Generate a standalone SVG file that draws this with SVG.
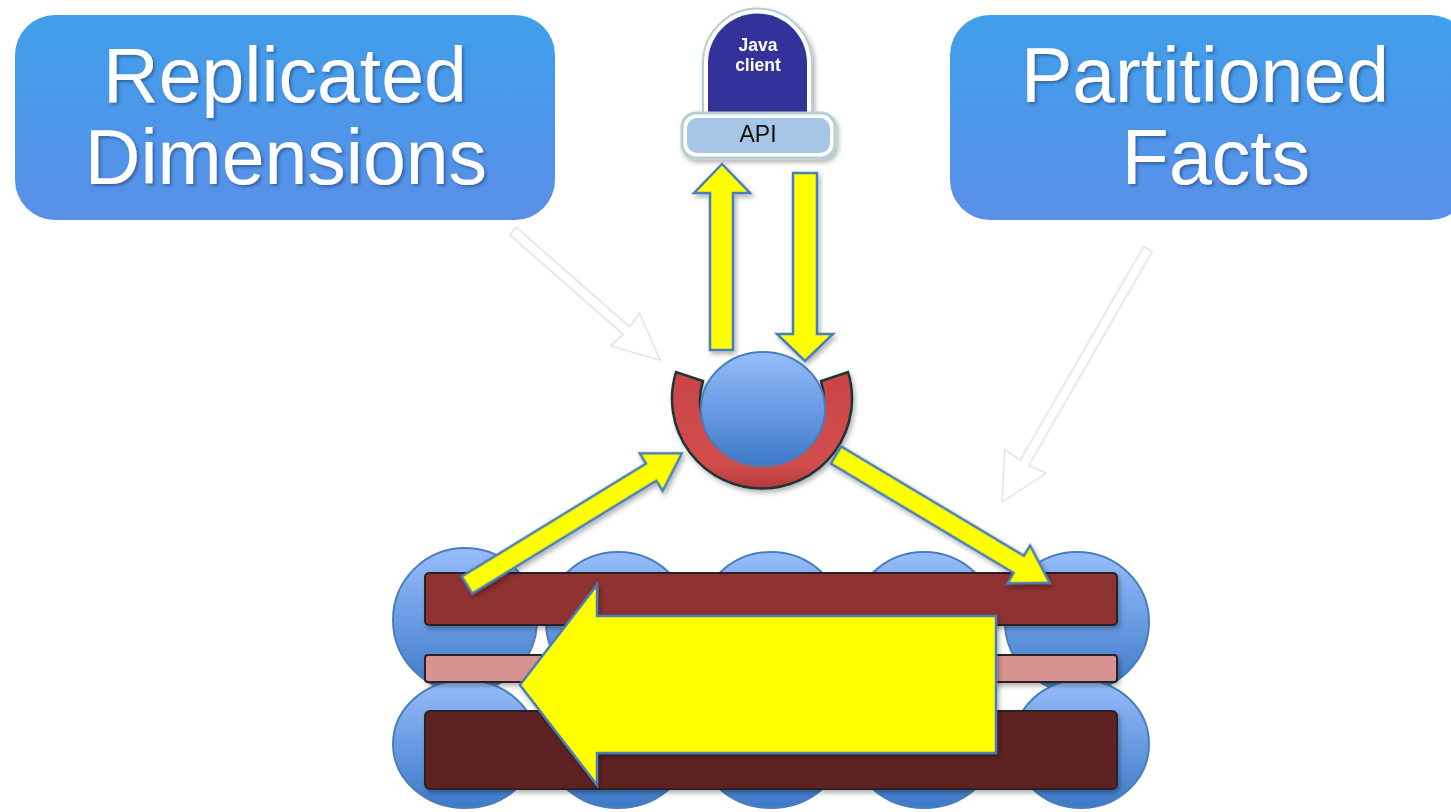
<svg xmlns="http://www.w3.org/2000/svg" width="1451" height="812" viewBox="0 0 1451 812">
  <defs>
    <linearGradient id="boxGrad" x1="0" y1="0" x2="0" y2="1">
      <stop offset="0" stop-color="#3f9feb"/>
      <stop offset="1" stop-color="#5a8fe8"/>
    </linearGradient>
    <linearGradient id="ballGrad" x1="0" y1="0" x2="0" y2="1">
      <stop offset="0" stop-color="#97bdfb"/>
      <stop offset="1" stop-color="#3d79c9"/>
    </linearGradient>
    <linearGradient id="ringGrad" x1="0" y1="0" x2="0" y2="1">
      <stop offset="0" stop-color="#c94444"/>
      <stop offset="0.8" stop-color="#d24d4d"/>
      <stop offset="1" stop-color="#b33a3a"/>
    </linearGradient>
    <filter id="textShadow" x="-10%" y="-10%" width="120%" height="130%">
      <feDropShadow dx="2" dy="2" stdDeviation="1.5" flood-color="#1d3a66" flood-opacity="0.55"/>
    </filter>
    <filter id="softShadow" x="-10%" y="-10%" width="125%" height="130%">
      <feDropShadow dx="2" dy="3" stdDeviation="2.5" flood-color="#000" flood-opacity="0.3"/>
    </filter>
    <style>
      .title { font-family: "Liberation Sans", Arial, sans-serif; font-size: 77px; fill: #ffffff; text-anchor: middle; }
      .client { font-family: "Liberation Sans", Arial, sans-serif; font-size: 17.5px; font-weight: bold; fill: #ffffff; text-anchor: middle; }
      .ball { fill: url(#ballGrad); stroke: #4a7ebb; stroke-width: 2; }
      .bar { stroke: #2a2020; stroke-width: 2; }
      .yellow { fill: #ffff00; stroke: #4a7ebb; stroke-width: 2.5; stroke-linejoin: miter; }
      .hollow { fill: #ffffff; stroke: #d2d2d2; stroke-width: 1; stroke-linejoin: round; }
    </style>
  </defs>

  <rect width="1451" height="812" fill="#ffffff"/>

  <!-- title boxes -->
  <g id="replicated-dimensions">
    <rect x="15" y="15" width="540" height="205" rx="40" fill="url(#boxGrad)"/>
    <g filter="url(#textShadow)">
      <text class="title" x="285" y="102">Replicated</text>
      <text class="title" x="286" y="184">Dimensions</text>
    </g>
  </g>

  <g id="partitioned-facts">
    <rect x="950" y="15" width="520" height="205" rx="40" fill="url(#boxGrad)"/>
    <g filter="url(#textShadow)">
      <text class="title" x="1205" y="102">Partitioned</text>
      <text class="title" x="1216" y="184">Facts</text>
    </g>
  </g>

  <!-- client with its API -->
  <g id="java-client" filter="url(#softShadow)">
    <path d="M703 116 L703 63 A54.5 54.5 0 0 1 812 63 L812 116 Z" fill="#ffffff" stroke="#b5d0d4" stroke-width="2"/>
    <path d="M708 112 L708 63 A49.5 49.5 0 0 1 807 63 L807 112 Z" fill="#33339a"/>
    <text class="client" x="758" y="51">Java</text>
    <text class="client" x="758" y="71">client</text>
    <rect x="682" y="113" width="153" height="45" rx="14" fill="#ffffff" stroke="#b5d0d4" stroke-width="3"/>
    <rect x="687" y="118" width="143" height="35" rx="10" fill="#a7c5e6"/>
    <text x="758" y="142" font-family="Liberation Sans, Arial, sans-serif" font-size="23" fill="#111111" text-anchor="middle">API</text>
  </g>

  <!-- central node: ball held in a red horseshoe -->
  <g id="hub">
    <path d="M676 372 A90 90 0 1 0 848 372 L821 381 A62 62 0 1 1 703 381 Z" fill="url(#ringGrad)" stroke="#1f3535" stroke-width="2.5" filter="url(#softShadow)"/>
    <ellipse class="ball" cx="763" cy="409" rx="62" ry="57"/>
  </g>

  <!-- partitioned cluster -->
  <g id="cluster">
    <g id="top-row">
      <ellipse class="ball" cx="465" cy="620" rx="72" ry="72"/>
      <ellipse class="ball" cx="618" cy="622" rx="72" ry="70"/>
      <ellipse class="ball" cx="771" cy="622" rx="72" ry="70"/>
      <ellipse class="ball" cx="924" cy="622" rx="72" ry="70"/>
      <ellipse class="ball" cx="1077" cy="622" rx="72" ry="70"/>
    </g>
    <g id="bottom-row">
      <ellipse class="ball" cx="465" cy="744" rx="72" ry="64"/>
      <ellipse class="ball" cx="618" cy="744" rx="72" ry="64"/>
      <ellipse class="ball" cx="771" cy="744" rx="72" ry="64"/>
      <ellipse class="ball" cx="924" cy="744" rx="72" ry="64"/>
      <ellipse class="ball" cx="1081" cy="744" rx="68" ry="64"/>
    </g>
    <g filter="url(#softShadow)">
      <rect class="bar" x="425" y="573" width="692" height="52" rx="4" fill="#8f3030"/>
      <rect class="bar" x="425" y="655" width="692" height="27" rx="3" fill="#d89292"/>
      <rect class="bar" x="425" y="711" width="692" height="78" rx="5" fill="#5f2121"/>
    </g>
  </g>

  <!-- connectors -->
  <g id="connectors">
    <g filter="url(#softShadow)">
      <!-- client request and reply -->
      <polygon class="yellow" points="710,350 710,193 694,193 722,164 750,193 733,193 733,350"/>
      <polygon class="yellow" points="793,173 817,173 817,334 833,334 805,361 777,334 793,334"/>
      <!-- cluster to hub -->
      <polygon class="yellow" transform="translate(467,585) rotate(-31.5)" points="0,-10 216,-10 216,-22 252,0 216,22 216,10 0,10"/>
      <!-- hub to cluster -->
      <polygon class="yellow" transform="translate(836,455) rotate(30.9)" points="0,-10 213,-10 213,-22 249,0 213,22 213,10 0,10"/>
      <!-- flow across partitions -->
      <polygon class="yellow" points="520,685 597,585 597,616 996,616 996,753 597,753 597,785"/>
    </g>
    <!-- faint pointers from the labels -->
    <polygon class="hollow" transform="translate(513,231) rotate(41.3)" points="0,-5 151,-5 149,-22 196,0 149,22 151,5 0,5"/>
    <polygon class="hollow" transform="translate(1148,249) rotate(120)" points="0,-5 247,-5 245,-24 292,0 245,24 247,5 0,5"/>
  </g>
</svg>
